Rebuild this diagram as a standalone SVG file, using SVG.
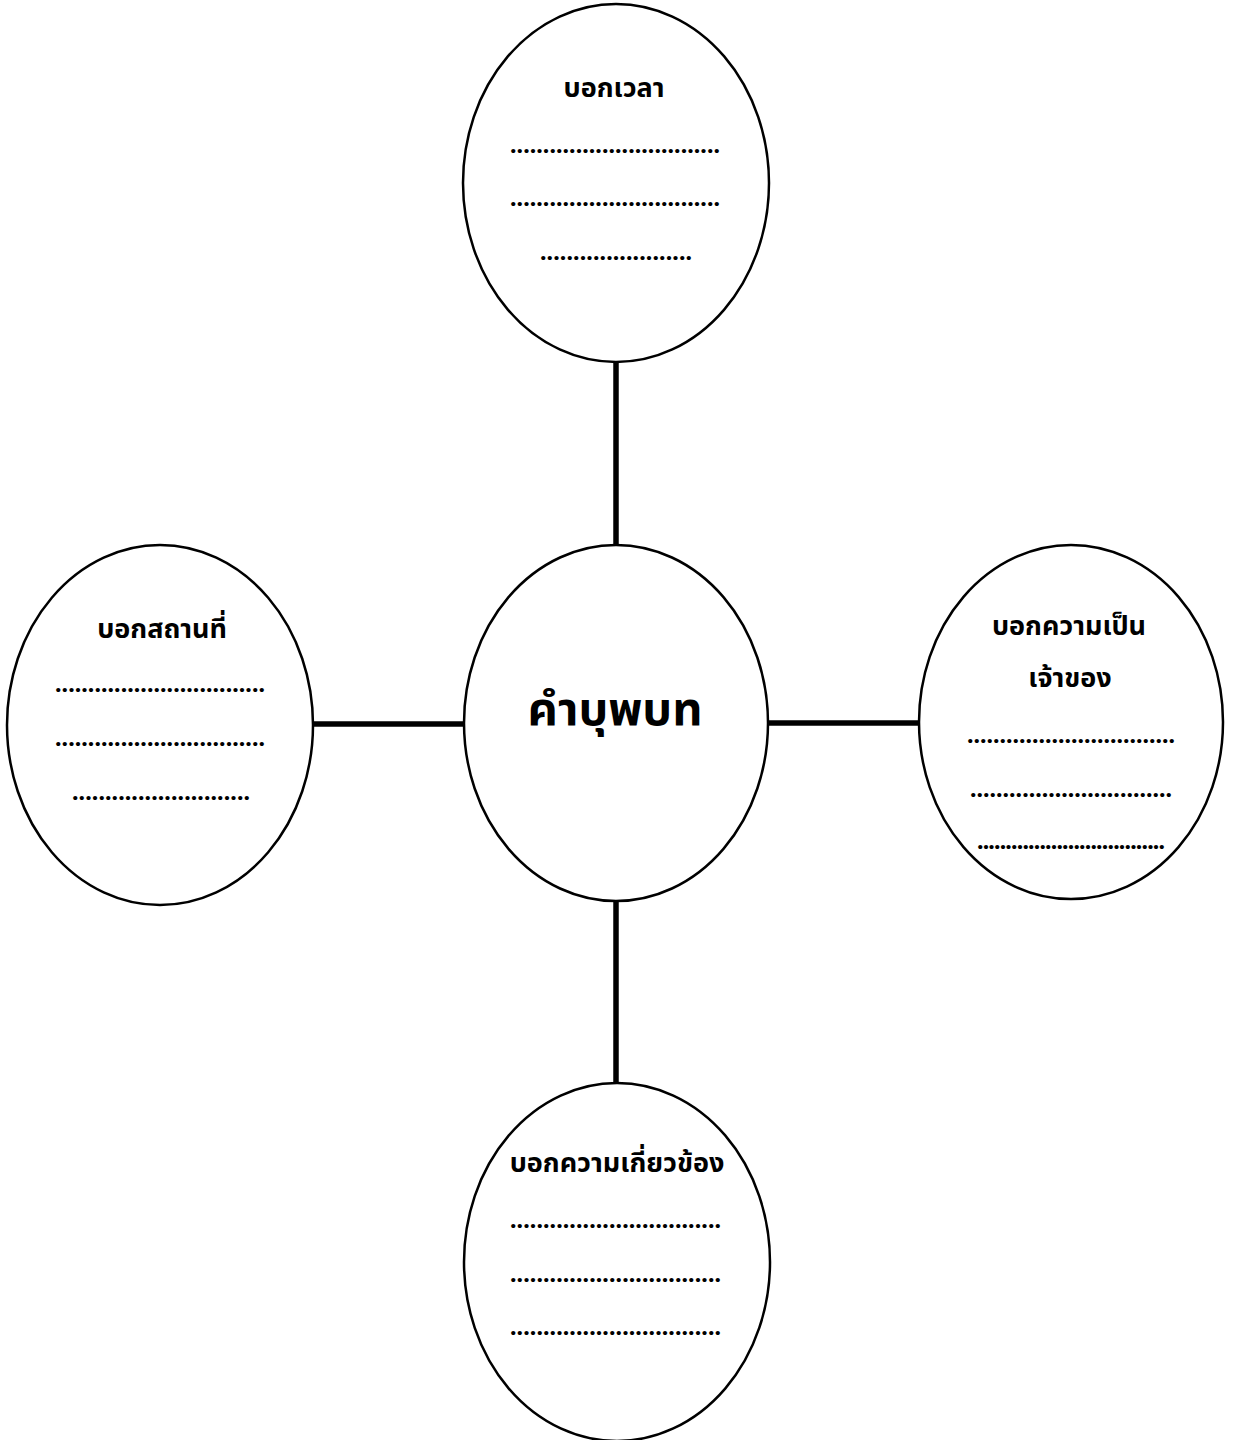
<svg xmlns="http://www.w3.org/2000/svg" width="1233" height="1440" viewBox="0 0 1233 1440">
<style>
.node{fill:#fff;stroke:#000;stroke-width:2.5}
.conn{stroke:#000;stroke-width:5.5;fill:none}
.t{font-family:"Noto Sans Thai","Loma","Garuda","Tlwg Typo","DejaVu Sans",sans-serif;font-weight:bold;fill:#000}
.d{font-family:"Liberation Serif",serif;font-weight:bold;font-size:26px;fill:#000}
</style>
<rect width="1233" height="1440" fill="#fff"/>
<g id="connectors">
<line class="conn" x1="616" y1="361" x2="616" y2="546"/>
<line class="conn" x1="313" y1="724" x2="465" y2="724"/>
<line class="conn" x1="767" y1="723" x2="921" y2="723"/>
<line class="conn" x1="616" y1="900" x2="616" y2="1084"/>
</g>
<g id="node-top">
<ellipse class="node" cx="616" cy="183" rx="153" ry="179"/>
<text class="t" x="614" y="97" font-size="27" text-anchor="middle">บอกเวลา</text>
<text class="d" x="510" y="153" textLength="210" lengthAdjust="spacing">................................</text>
<text class="d" x="510" y="206" textLength="210" lengthAdjust="spacing">................................</text>
<text class="d" x="540" y="260" textLength="152" lengthAdjust="spacing">.......................</text>
</g>
<g id="node-left">
<ellipse class="node" cx="160" cy="725" rx="153" ry="180"/>
<text class="t" x="162" y="638" font-size="27" text-anchor="middle">บอกสถานที่</text>
<text class="d" x="55" y="692" textLength="210" lengthAdjust="spacing">................................</text>
<text class="d" x="55" y="746" textLength="210" lengthAdjust="spacing">................................</text>
<text class="d" x="72" y="800" textLength="178" lengthAdjust="spacing">...........................</text>
</g>
<g id="node-center">
<ellipse class="node" cx="616" cy="723" rx="152" ry="178"/>
<text class="t" x="615" y="725" font-size="47" text-anchor="middle">คำบุพบท</text>
</g>
<g id="node-right">
<ellipse class="node" cx="1071" cy="722" rx="152" ry="177"/>
<text class="t" x="1069" y="635" font-size="27" text-anchor="middle">บอกความเป็น</text>
<text class="t" x="1070" y="687" font-size="27" text-anchor="middle">เจ้าของ</text>
<text class="d" x="967" y="743" textLength="208" lengthAdjust="spacing">................................</text>
<text class="d" x="970" y="797" textLength="202" lengthAdjust="spacing">...............................</text>
<text class="d" x="977" y="849" font-size="20" textLength="188" lengthAdjust="spacing">.................................</text>
</g>
<g id="node-bottom">
<ellipse class="node" cx="617" cy="1262" rx="153" ry="179"/>
<text class="t" x="617" y="1172" font-size="27" text-anchor="middle">บอกความเกี่ยวข้อง</text>
<text class="d" x="510" y="1228" textLength="211" lengthAdjust="spacing">................................</text>
<text class="d" x="510" y="1282" textLength="211" lengthAdjust="spacing">................................</text>
<text class="d" x="510" y="1335" textLength="211" lengthAdjust="spacing">................................</text>
</g>
</svg>
